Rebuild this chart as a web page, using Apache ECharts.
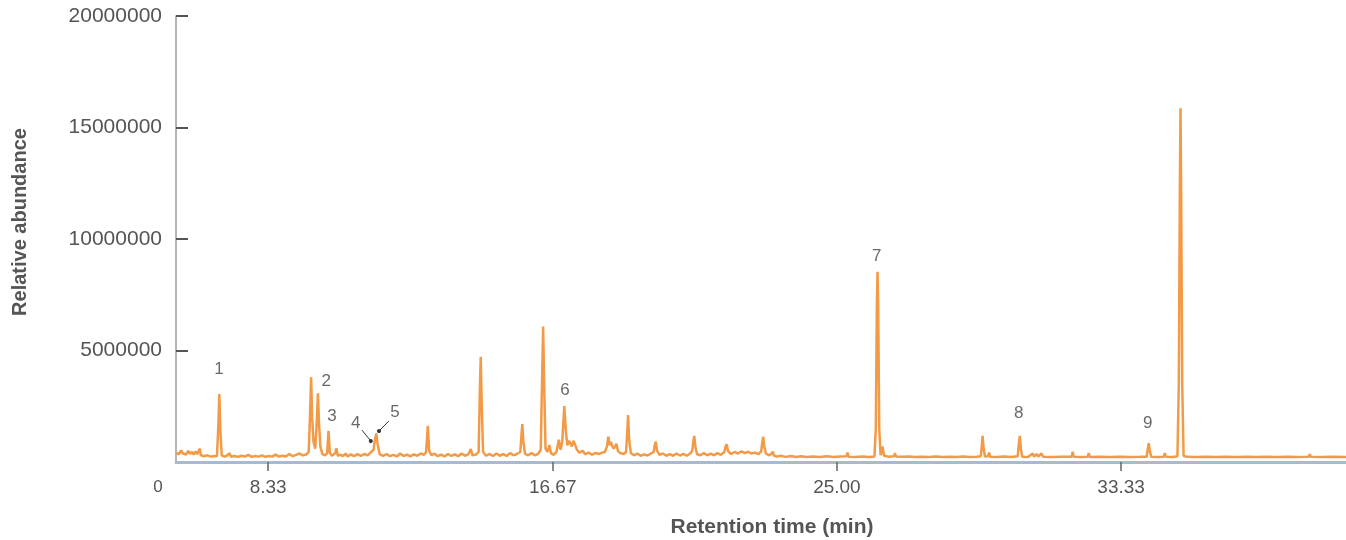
<!DOCTYPE html>
<html>
<head>
<meta charset="utf-8">
<title>Chromatogram</title>
<script src="https://cdn.jsdelivr.net/npm/echarts@6/dist/echarts.min.js"></script>
<style>
  html, body { margin: 0; padding: 0; background: #ffffff; }
  #chart { width: 1346px; height: 540px; }
</style>
</head>
<body>
<div id="chart"></div>
<script>
// Total ion chromatogram: [retention time (min), abundance (millions)]
const traceEarly = [
  [5.63,0.40],[5.68,0.48],[5.72,0.36],[5.78,0.52],[5.83,0.38],[5.88,0.46],[5.93,0.34],[5.99,0.50],
  [6.04,0.37],[6.10,0.45],[6.15,0.33],[6.20,0.47],[6.25,0.35],[6.30,0.42],[6.33,0.60],[6.36,0.30],
  [6.45,0.26],[6.55,0.30],[6.65,0.24],[6.75,0.27],[6.83,0.26],[6.87,1.60],[6.90,3.05],[6.93,1.40],
  [6.97,0.30],[7.05,0.24],[7.12,0.28],[7.20,0.40],[7.24,0.24],[7.35,0.27],[7.45,0.23],[7.55,0.28],
  [7.65,0.24],[7.75,0.32],[7.85,0.23],[7.95,0.27],[8.05,0.24],[8.15,0.30],[8.25,0.23],[8.35,0.27],
  [8.45,0.24],[8.55,0.33],[8.65,0.24],[8.75,0.28],[8.85,0.25],[8.95,0.36],[9.05,0.26],[9.15,0.32],
  [9.25,0.38],[9.35,0.30],[9.45,0.34],[9.52,0.45],[9.56,2.20],[9.59,3.80],[9.62,2.00],[9.66,0.90],
  [9.71,0.60],[9.75,1.60],[9.79,3.08],[9.82,1.80],[9.86,0.70],[9.92,0.35],[10.00,0.30],[10.06,0.40],
  [10.10,1.40],[10.14,0.40],[10.20,0.28],[10.30,0.40],[10.33,0.62],[10.37,0.28],[10.45,0.33],[10.52,0.26],
  [10.60,0.38],[10.66,0.25],[10.75,0.34],[10.85,0.26],[10.95,0.35],[11.05,0.27],[11.15,0.36],[11.25,0.30],
  [11.35,0.45],[11.42,0.55],[11.46,1.00],[11.50,1.28],[11.54,0.80],[11.60,0.35],[11.70,0.27],[11.80,0.36],
  [11.90,0.26],[12.00,0.32],[12.10,0.25],[12.20,0.38],[12.30,0.27],[12.40,0.33],[12.50,0.25],[12.60,0.34],
  [12.70,0.28],[12.80,0.38],[12.90,0.32],[12.96,0.45],[13.01,1.62],[13.05,0.50],[13.12,0.30],[13.20,0.38],
  [13.30,0.26]
];

const traceMiddle = [
  [13.40,0.33],[13.50,0.25],[13.60,0.36],[13.70,0.27],[13.80,0.34],[13.90,0.26],[14.00,0.38],[14.10,0.28],
  [14.20,0.35],[14.27,0.58],[14.32,0.30],[14.42,0.33],[14.50,0.45],[14.53,2.80],[14.56,4.72],[14.59,2.60],
  [14.63,0.45],[14.72,0.28],[14.82,0.36],[14.92,0.27],[15.02,0.38],[15.12,0.28],[15.22,0.35],[15.32,0.27],
  [15.42,0.40],[15.52,0.30],[15.62,0.36],[15.72,0.45],[15.75,1.10],[15.78,1.70],[15.81,0.90],[15.86,0.36],
  [15.95,0.30],[16.05,0.40],[16.15,0.30],[16.25,0.38],[16.32,0.55],[16.36,3.80],[16.39,6.07],[16.42,3.50],
  [16.46,0.60],[16.52,0.45],[16.57,0.76],[16.62,0.40],[16.70,0.32],[16.78,0.45],[16.85,1.00],[16.90,0.55],
  [16.95,0.90],[17.01,2.51],[17.06,1.30],[17.10,0.75],[17.15,0.95],[17.19,1.02],[17.23,0.70],[17.28,0.95],
  [17.32,0.80],[17.38,0.55],[17.45,0.42],[17.55,0.50],[17.62,0.35],[17.72,0.42],[17.82,0.33],[17.92,0.40],
  [18.02,0.36],[18.12,0.42],[18.20,0.45],[18.26,0.70],[18.30,1.13],[18.34,0.75],[18.37,0.90],[18.40,0.88],
  [18.45,0.60],[18.50,0.70],[18.54,0.82],[18.58,0.50],[18.65,0.40],[18.75,0.36],[18.82,0.45],[18.85,1.20],
  [18.88,2.10],[18.91,1.00],[18.96,0.40],[19.05,0.30],[19.15,0.38],[19.25,0.28],[19.35,0.34],[19.45,0.29],
  [19.55,0.38],[19.63,0.45],[19.66,0.75],[19.69,0.91],[19.73,0.50],[19.80,0.32],[19.90,0.38],[20.00,0.28],
  [20.10,0.35],[20.20,0.28],[20.30,0.38],[20.40,0.29],[20.50,0.36],[20.60,0.28],[20.70,0.38],[20.76,0.50],
  [20.79,0.90],[20.82,1.17],[20.85,0.70],[20.90,0.35],[21.00,0.30],[21.10,0.40],[21.20,0.30],[21.30,0.38],
  [21.40,0.30],[21.50,0.40],[21.60,0.32],[21.70,0.45],[21.74,0.70],[21.77,0.80],[21.81,0.48],[21.90,0.36],
  [22.00,0.45],[22.10,0.38],[22.20,0.48],[22.30,0.40],[22.40,0.46],[22.50,0.38],[22.60,0.42],[22.70,0.35],
  [22.78,0.48],[22.81,0.85],[22.84,1.13],[22.87,0.70],[22.92,0.38],[23.00,0.30],[23.08,0.36],[23.12,0.46],
  [23.16,0.28],[23.25,0.24]
];

const traceLate = [
  [23.35,0.28],[23.50,0.23],[23.65,0.27],[23.80,0.22],[23.95,0.26],[24.10,0.22],[24.30,0.25],[24.50,0.22],
  [24.70,0.26],[24.90,0.22],[25.10,0.25],[25.28,0.26],[25.31,0.42],[25.34,0.24],[25.55,0.22],[25.75,0.25],
  [25.95,0.22],[26.10,0.25],[26.14,1.50],[26.17,7.00],[26.19,8.53],[26.21,7.00],[26.24,1.50],[26.28,0.30],
  [26.34,0.69],[26.38,0.28],[26.50,0.24],[26.67,0.26],[26.70,0.40],[26.73,0.25],[26.90,0.23],[27.10,0.25],
  [27.30,0.22],[27.50,0.24],[27.70,0.22],[27.90,0.25],[28.10,0.22],[28.30,0.24],[28.50,0.22],[28.70,0.25],
  [28.90,0.22],[29.10,0.24],[29.22,0.26],[29.25,0.80],[29.27,1.17],[29.30,0.60],[29.34,0.25],[29.43,0.26],
  [29.46,0.42],[29.49,0.24],[29.70,0.22],[29.90,0.25],[30.10,0.22],[30.30,0.26],[30.33,0.80],[30.36,1.17],
  [30.39,0.60],[30.43,0.24],[30.60,0.22],[30.74,0.38],[30.78,0.24],[30.86,0.36],[30.90,0.24],[31.00,0.38],
  [31.04,0.23],[31.30,0.22],[31.60,0.24],[31.88,0.24],[31.91,0.46],[31.94,0.23],[32.15,0.22],[32.35,0.24],
  [32.38,0.40],[32.41,0.22],[32.70,0.23],[33.00,0.22],[33.30,0.24],[33.60,0.22],[33.90,0.23],[34.08,0.24],
  [34.11,0.60],[34.14,0.84],[34.17,0.50],[34.21,0.24],[34.40,0.22],[34.58,0.24],[34.61,0.40],[34.64,0.23],
  [34.85,0.22],[34.98,0.26],[35.02,3.50],[35.05,12.00],[35.07,15.86],[35.09,12.00],[35.12,3.50],[35.16,0.28],
  [35.25,0.23],[35.50,0.22],[35.80,0.23],[36.10,0.22],[36.40,0.23],[36.70,0.22],[37.00,0.23],[37.30,0.22],
  [37.60,0.23],[37.90,0.22],[38.20,0.23],[38.50,0.22],[38.83,0.24],[38.86,0.35],[38.89,0.23],[39.20,0.22],
  [39.50,0.23],[39.92,0.22]
];

// Numbered compounds: [label, time, abundance] where the number sits
const peakNumbers = [
  ['1', 6.89, 4.17], ['2', 10.03, 3.63], ['3', 10.20, 2.06],
  ['4', 10.90, 1.75], ['5', 12.05, 2.24], ['6', 17.03, 3.23],
  ['7', 26.17, 9.24], ['8', 30.33, 2.20], ['9', 34.11, 1.75]
];

// Leader lines for the two crowded peaks: [from time, from value, to time, to value]
const pointers = [
  [11.08, 1.43, 11.34, 0.94],
  [11.87, 1.84, 11.58, 1.39]
];

const timeTicks = [8.33, 16.67, 25.00, 33.33];
const abundanceTicks = [5, 10, 15, 20]; // millions
const timeRange = [5.63, 39.92];

const trace = traceEarly.concat(traceMiddle, traceLate);

const chart = echarts.init(document.getElementById('chart'), null, { renderer: 'canvas' });

const textColor = '#555555';
const fontFamily = 'Liberation Sans, Arial, Helvetica, sans-serif';

chart.setOption({
  animation: false,
  backgroundColor: '#ffffff',
  grid: { left: 176, right: 0, top: 16, bottom: 78, containLabel: false },
  xAxis: {
    type: 'value',
    min: timeRange[0],
    max: timeRange[1],
    splitLine: { show: false },
    axisLine: { show: true, lineStyle: { color: '#a9b9cf', width: 3 } },
    axisTick: {
      show: true, customValues: timeTicks, length: 9, inside: false,
      lineStyle: { color: '#666666', width: 1.5 }
    },
    axisLabel: {
      customValues: timeTicks,
      formatter: v => v.toFixed(2),
      color: textColor, fontSize: 19, fontFamily: fontFamily, margin: 16
    }
  },
  yAxis: {
    type: 'value',
    min: 0,
    max: 20,
    splitLine: { show: false },
    axisLine: { show: true, lineStyle: { color: '#9c9c9c', width: 1.5 } },
    axisTick: {
      show: true, customValues: abundanceTicks, inside: true, length: 12,
      lineStyle: { color: '#555555', width: 2 }
    },
    axisLabel: {
      customValues: abundanceTicks,
      formatter: v => String(Math.round(v * 1000000)),
      color: textColor, fontSize: 21, fontFamily: fontFamily, margin: 14,
      padding: [6, 0, 0, 0]
    }
  },
  graphic: [
    {
      type: 'text', x: 772, y: 527,
      style: {
        text: 'Retention time (min)', fill: textColor,
        font: 'bold 21px ' + fontFamily, textAlign: 'center', textVerticalAlign: 'middle'
      }
    },
    {
      type: 'text', x: 20, y: 222, rotation: Math.PI / 2,
      style: {
        text: 'Relative abundance', fill: textColor,
        font: 'bold 20px ' + fontFamily, textAlign: 'center', textVerticalAlign: 'middle'
      }
    },
    {
      type: 'text', x: 158, y: 487,
      style: {
        text: '0', fill: textColor,
        font: '17px ' + fontFamily, textAlign: 'center', textVerticalAlign: 'middle'
      }
    }
  ],
  series: [
    {
      name: 'TIC',
      type: 'line',
      data: trace,
      showSymbol: false,
      symbol: 'none',
      smooth: false,
      lineStyle: { color: '#f29a46', width: 2.5 },
      z: 3
    },
    {
      name: 'Peak numbers',
      type: 'scatter',
      data: peakNumbers.map(p => ({ name: p[0], value: [p[1], p[2]] })),
      symbolSize: 0,
      label: {
        show: true, position: 'inside', formatter: '{b}',
        color: '#444444', fontSize: 17, fontFamily: fontFamily
      },
      markLine: {
        silent: true,
        animation: false,
        label: { show: false },
        lineStyle: { color: '#333333', width: 1, type: 'solid' },
        data: pointers.map(p => [
          { coord: [p[0], p[1]], symbol: 'none' },
          { coord: [p[2], p[3]], symbol: 'circle', symbolSize: 4 }
        ])
      },
      z: 4
    }
  ]
});
</script>
</body>
</html>
